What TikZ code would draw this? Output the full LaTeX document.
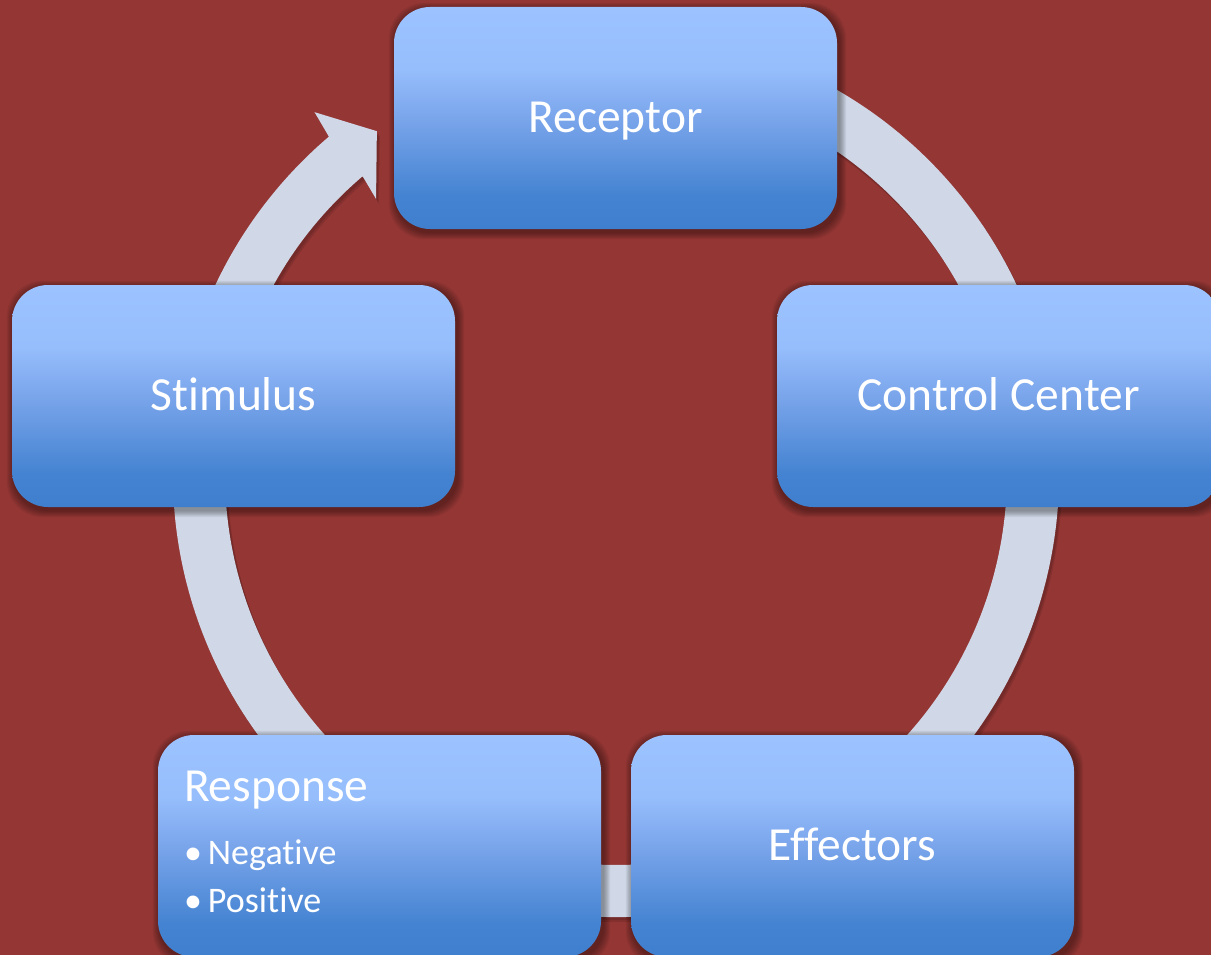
\documentclass[tikz,border=0pt]{standalone}
\usepackage{fontspec}
\setmainfont[Ligatures={NoCommon}]{Carlito}
\definecolor{bgred}{HTML}{943634}
\definecolor{ringfill}{HTML}{D0D8E8}
% light blue at the top, deeper blue at the bottom (25bp..75bp span the box)
\pgfdeclareverticalshading{boxgrad}{100bp}{%
  rgb(0bp)=(0.247,0.498,0.804);
  rgb(25bp)=(0.247,0.498,0.804);
  rgb(32.5bp)=(0.267,0.514,0.820);
  rgb(50bp)=(0.478,0.647,0.922);
  rgb(61bp)=(0.588,0.745,0.988);
  rgb(75bp)=(0.612,0.765,1.0);
  rgb(100bp)=(0.612,0.765,1.0)}
\pgfdeclarelayer{backdrop}
\pgfdeclarelayer{ringlayer}
\pgfdeclarelayer{shadowlayer}
\pgfsetlayers{backdrop,ringlayer,shadowlayer,main}
\tikzset{
  cyclebox/.style={rounded corners=36pt, minimum width=443pt, minimum height=222pt,
    inner sep=0pt, shade, shading=boxgrad},
  boxtext/.style={text=white, font=\fontsize{47.5}{57}\selectfont, inner sep=0pt, anchor=base},
  bullettext/.style={text=white, font=\fontsize{36}{43}\selectfont, inner sep=0pt, anchor=base west},
}
% closed outline of the cycle ring with its arrowhead (polar, about the ring centre)
\newcommand\ringpath{(-75:443) arc[start angle=-75, end angle=229.6, radius=443]
  -- (230.2:471) -- (235.1:418) -- (228.9:365) -- (229.6:391)
  arc[start angle=229.6, end angle=-75, radius=391] -- cycle}
% soft drop shadow under a box node
\newcommand\softshadow[1]{%
  \foreach \e in {7,6,...,1}{%
    \fill[black, opacity=0.055, rounded corners=36pt]
      ([shift={(-\e+2,\e+3)}]#1.south west) rectangle ([shift={(\e+2,-\e+3)}]#1.north east);
  }}
\begin{document}
\begin{tikzpicture}[x=1pt, y=-1pt]
  \useasboundingbox (0,0) rectangle (1211,955);
  \begin{pgfonlayer}{backdrop}
    \fill[bgred] (0,0) rectangle (1211,955);
  \end{pgfonlayer}

  \coordinate (ctr) at (616,474);

  % process steps
  \node[cyclebox] (rec)  at (615.5,118) {};
  \node[cyclebox] (ctrl) at (998.5,396) {};
  \node[cyclebox] (eff)  at (852.5,846) {};
  \node[cyclebox] (resp) at (379.5,846) {};
  \node[cyclebox] (stim) at (233.5,396) {};

  \node[boxtext] (recT)  at ([yshift=-15pt]rec.center)  {Receptor};
  \node[boxtext] (ctrlT) at ([yshift=-14pt]ctrl.center) {Control Center};
  \node[boxtext] (effT)  at ([yshift=-14pt]eff.center)  {Effectors};
  \node[boxtext] (stimT) at ([yshift=-14pt]stim.center) {Stimulus};
  \node[boxtext, anchor=base west] (respT) at ([shift={(26,67)}]resp.north west) {Response};
  \node[bullettext] (neg) at ([shift={(26,130)}]resp.north west) {\makebox[24pt][l]{•}Negative};
  \node[bullettext] (pos) at ([shift={(26,178)}]resp.north west) {\makebox[24pt][l]{•}Positive};

  % cycle ring behind the boxes
  \begin{pgfonlayer}{ringlayer}
    \begin{scope}[shift={(ctr)}]
      \fill[black, opacity=0.12, shift={(2,3)}] \ringpath;
      \fill[black, opacity=0.10, shift={(3,5)}] \ringpath;
      \fill[ringfill] \ringpath;
    \end{scope}
  \end{pgfonlayer}

  \begin{pgfonlayer}{shadowlayer}
    \softshadow{rec}
    \softshadow{ctrl}
    \softshadow{eff}
    \softshadow{resp}
    \softshadow{stim}
  \end{pgfonlayer}
\end{tikzpicture}
\end{document}
